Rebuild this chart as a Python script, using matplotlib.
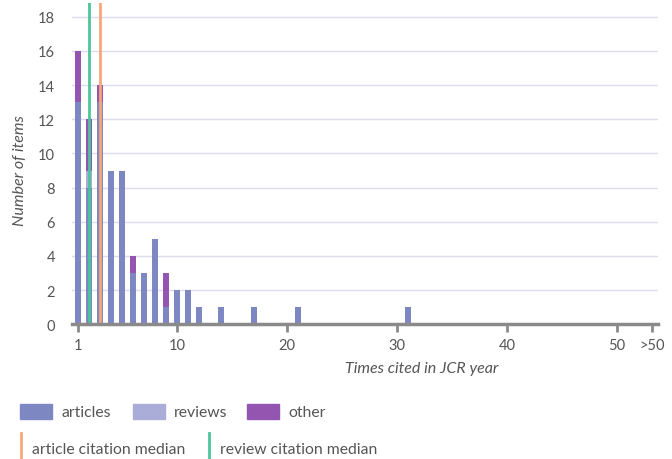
import matplotlib
matplotlib.use("Agg")
from matplotlib import pyplot as plt
from matplotlib.patches import Rectangle
from matplotlib.lines import Line2D

# times cited (bar positions) and item counts per document type
times_cited = [1, 2, 3, 4, 5, 6, 7, 8, 9, 10, 11, 12, 14, 17, 21, 31]
articles = [13, 8, 13, 9, 9, 3, 3, 5, 1, 2, 2, 1, 1, 1, 1, 1]
reviews = [0, 1, 0, 0, 0, 0, 0, 0, 0, 0, 0, 0, 0, 0, 0, 0]
other = [3, 3, 1, 0, 0, 1, 0, 0, 2, 0, 0, 0, 0, 0, 0, 0]

article_median = 3
review_median = 2

x_ticks = [1, 10, 20, 30, 40, 50, 53.2]
x_tick_labels = ["1", "10", "20", "30", "40", "50", ">50"]
y_ticks = [0, 2, 4, 6, 8, 10, 12, 14, 16, 18]

c_articles = "#7d87c1"
c_reviews = "#a9add8"
c_other = "#9455b0"
c_art_med = "#f7a679"
c_rev_med = "#4cc597"
text_col = "#555555"

plt.rcParams['font.family'] = ['Lato', 'DejaVu Sans']

fig = plt.figure(figsize=(6.72, 4.6), dpi=100)
ax = fig.add_axes([0.107, 0.293, 0.872, 0.698])

w = 0.62
ax.bar(times_cited, articles, width=w, color=c_articles, zorder=2)
bottom2 = [a for a in articles]
ax.bar(times_cited, reviews, width=w, bottom=bottom2, color=c_reviews, zorder=2)
bottom3 = [a + r for a, r in zip(articles, reviews)]
ax.bar(times_cited, other, width=w, bottom=bottom3, color=c_other, zorder=2)

ax.axvline(review_median, color=c_rev_med, lw=2, zorder=3)
ax.axvline(article_median, color=c_art_med, lw=2, zorder=3)

ax.set_xlim(0.45, 53.7)
ax.set_ylim(0, 18.8)
ax.set_yticks(y_ticks)
ax.set_xticks(x_ticks)
ax.set_xticklabels(x_tick_labels)
ax.grid(axis="y", color="#dcdcee", lw=1, zorder=0)
ax.set_axisbelow(True)

for s in ["left", "right", "top"]:
    ax.spines[s].set_visible(False)
ax.spines["bottom"].set_color("#8a8a8a")
ax.spines["bottom"].set_linewidth(2.5)
ax.spines["bottom"].set_zorder(4)

ax.tick_params(axis="y", length=0, labelsize=10.5, labelcolor=text_col, pad=12)
ax.tick_params(axis="x", length=6, width=2, color="#8a8a8a", labelsize=10.5,
               labelcolor=text_col, pad=4)

fig.text(0.03, 0.63, "Number of items", rotation=90, ha="center", va="center",
         style="italic", fontsize=11.5, color=text_col)
fig.text(0.628, 0.198, "Times cited in JCR year", ha="center", va="center",
         style="italic", fontsize=11.5, color=text_col)

# legend drawn by hand, two rows
W, H = 672.0, 460.0
row1 = [(20, c_articles, "articles"), (133, c_reviews, "reviews"), (247, c_other, "other")]
for px, col, lab in row1:
    fig.add_artist(Rectangle((px / W, 1 - 420 / H), 32 / W, 15 / H,
                             transform=fig.transFigure, color=col))
    fig.text((px + 41) / W, 1 - 413 / H, lab, ha="left", va="center",
             fontsize=11.3, color=text_col)

row2 = [(21, c_art_med, "article citation median"), (209, c_rev_med, "review citation median")]
for px, col, lab in row2:
    fig.add_artist(Line2D([px / W, px / W], [1 - 460 / H, 1 - 434 / H],
                          transform=fig.transFigure, color=col, lw=2))
    fig.text((px + 11) / W, 1 - 450 / H, lab, ha="left", va="center",
             fontsize=11.3, color=text_col)

plt.savefig("out.png", dpi=100)
plt.close()
